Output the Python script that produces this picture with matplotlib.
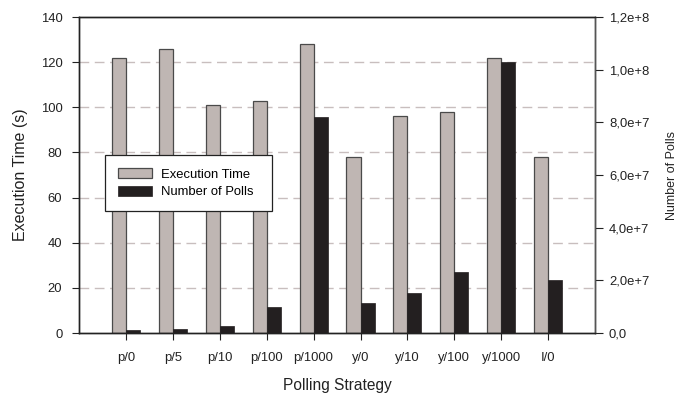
import matplotlib
matplotlib.use("Agg")
import matplotlib.pyplot as plt
import numpy as np
from matplotlib.ticker import FuncFormatter

plt.rcParams['font.family'] = ['Liberation Sans', 'DejaVu Sans']

strategies = ["p/0", "p/5", "p/10", "p/100", "p/1000", "y/0", "y/10", "y/100", "y/1000", "I/0"]
exec_time = [122, 126, 101, 103, 128, 78, 96, 98, 122, 78]
num_polls = [1.0e6, 1.5e6, 2.7e6, 1.0e7, 8.2e7, 1.14e7, 1.52e7, 2.3e7, 1.03e8, 2.0e7]

gray = "#bfb6b3"
dark = "#231f20"
edge = "#4a4a4a"

fig = plt.figure(figsize=(6.77, 3.96), dpi=100)
ax1 = fig.add_subplot(111)
ax2 = ax1.twinx()
fig.subplots_adjust(left=0.1167, right=0.879, top=0.957, bottom=0.159)

x = np.arange(len(strategies))
w = 0.3

b1 = ax1.bar(x - w / 2, exec_time, w, color=gray, edgecolor=edge, linewidth=0.9, zorder=2)
b2 = ax2.bar(x + w / 2, num_polls, w, color=dark, edgecolor=dark, linewidth=0.5, zorder=2)

ax1.set_xlim(-1, len(strategies))
ax1.set_ylim(0, 140)
ax1.set_yticks(range(0, 141, 20))
ax2.set_ylim(0, 1.2e8)
ax2.set_yticks(np.arange(0, 1.21e8, 2e7))


def sci_comma(v, pos):
    if v == 0:
        return "0,0"
    exp = int(np.floor(np.log10(abs(v))))
    mant = v / 10 ** exp
    return ("%.1fe+%d" % (mant, exp)).replace(".", ",")


ax2.yaxis.set_major_formatter(FuncFormatter(sci_comma))

# dashed grid, behind the bars
ax1.set_axisbelow(True)
for g in range(20, 140, 20):
    ax1.axhline(g, color="#c8bebe", linestyle=(0, (7, 4)), linewidth=1.0, zorder=0)

ax1.set_xticks(x)
ax1.set_xticklabels(strategies)

for a in (ax1, ax2):
    for s in a.spines.values():
        s.set_linewidth(1.0)
        s.set_color("#222222")
ax2.spines['right'].set_color("#555555")

ax1.tick_params(axis="y", direction="out", length=5, width=0.8, pad=7, labelsize=9.4, colors="#222222")
ax1.tick_params(axis="x", direction="out", length=5, width=0.8, pad=9, labelsize=9.4, colors="#222222")
ax2.tick_params(axis="y", direction="out", length=6, width=0.8, pad=4, labelsize=9.4, colors="#222222")

ax1.set_xlabel("Polling Strategy", fontsize=11.2, labelpad=10, color="#222222")
ax1.set_ylabel("Execution Time (s)", fontsize=11.5, labelpad=9, color="#222222")
ax2.set_ylabel("Number of Polls", fontsize=9, labelpad=12, color="#222222")

leg = ax2.legend([b1, b2], ["Execution Time", "Number of Polls"],
                 loc="upper left", bbox_to_anchor=(0.05, 0.389, 0.323, 0.174),
                 mode="expand", borderaxespad=0, fancybox=False, framealpha=1,
                 edgecolor="#222222", fontsize=9.4, handlelength=2.6,
                 handleheight=0.8, handletextpad=0.7,
                 borderpad=1.0, labelspacing=0.38)
leg.get_frame().set_linewidth(0.9)

fig.savefig("out.png", dpi=100)
